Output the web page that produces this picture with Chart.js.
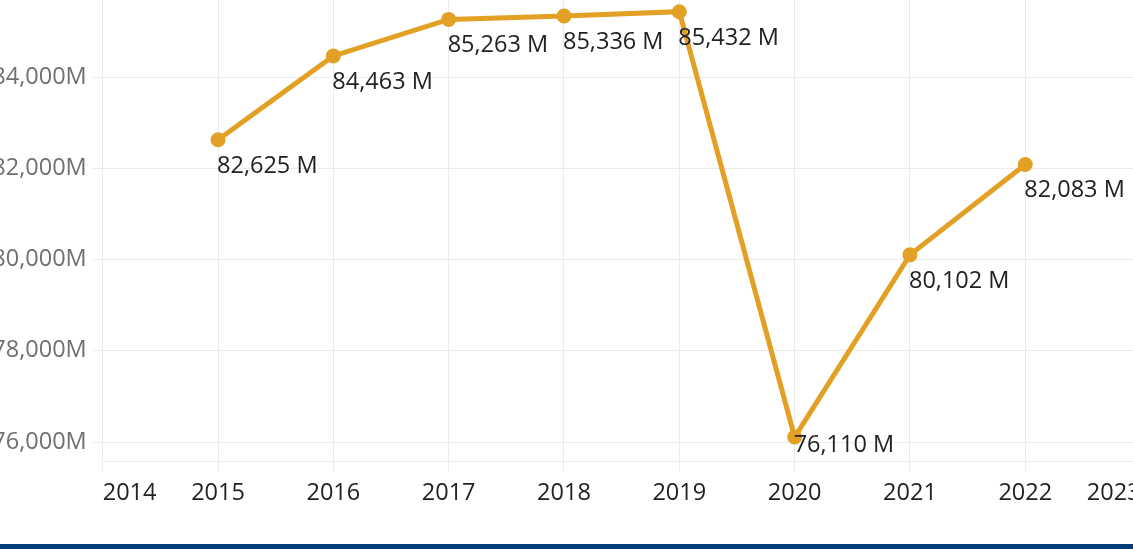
<!DOCTYPE html>
<html><head><meta charset="utf-8">
<style>
html,body{margin:0;padding:0;background:#fff;overflow:hidden;width:1133px;height:549px;}
#wrap{position:absolute;left:-30px;top:0;width:1200px;height:544px;}
#bar{position:absolute;left:0;top:544px;width:1133px;height:5px;background:#003d79;}
</style>
<script src="https://cdn.jsdelivr.net/npm/chart.js@4"></script>
</head><body>
<div id="wrap"><canvas id="c" width="1200" height="544"></canvas></div>
<div id="bar"></div>
<script>
const years = [2015, 2016, 2017, 2018, 2019, 2020, 2021, 2022];
const values = [82625, 84463, 85263, 85336, 85432, 76110, 80102, 82083];
const yTicks = [76000, 78000, 80000, 82000, 84000];
const xTicks = [2014, 2015, 2016, 2017, 2018, 2019, 2020, 2021, 2022, 2023];

const FONT = '"Open Sans", "Noto Sans", sans-serif';
const FS = 23.5;
const gridColor = '#ebebeb';
const lineColor = '#E2A125';

const labelPlugin = {
  id: 'valueLabels',
  afterDatasetsDraw(chart) {
    const ctx = chart.ctx;
    const area = chart.chartArea;
    const meta = chart.getDatasetMeta(0);
    ctx.save();
    ctx.font = FS + 'px ' + FONT;
    ctx.fillStyle = '#222222';
    ctx.textAlign = 'left';
    ctx.textBaseline = 'alphabetic';
    meta.data.forEach((p, i) => {
      const txt = values[i].toLocaleString('en-US') + ' M';
      const y = Math.min(p.y + 33, area.bottom - 9);
      ctx.fillText(txt, p.x - 1, y);
    });
    ctx.restore();
  }
};

new Chart(document.getElementById('c'), {
  type: 'line',
  data: {
    datasets: [{
      data: years.map((y, i) => ({ x: y, y: values[i] })),
      borderColor: lineColor,
      backgroundColor: lineColor,
      pointBackgroundColor: lineColor,
      pointBorderColor: lineColor,
      borderWidth: 5,
      pointRadius: 5,
      tension: 0
    }]
  },
  options: {
    responsive: false,
    animation: false,
    layout: { autoPadding: false, padding: { left: 0, right: 29.4, top: 0, bottom: 0 } },
    plugins: { legend: { display: false }, tooltip: { enabled: false } },
    scales: {
      x: {
        type: 'linear',
        min: 2014,
        max: 2023,
        afterBuildTicks: s => { s.ticks = xTicks.map(v => ({ value: v })); },
        afterFit: s => { s.height = 83; s.paddingLeft = 0; s.paddingRight = 0; },
        grid: { color: gridColor, drawTicks: true, tickLength: 10, tickColor: gridColor },
        border: { color: gridColor },
        ticks: {
          align: 'inner',
          padding: 8,
          color: '#222222',
          font: { family: FONT, size: FS },
          callback: v => String(v),
          maxRotation: 0,
          autoSkip: false
        }
      },
      y: {
        min: 75584,
        max: 85688,
        afterBuildTicks: s => { s.ticks = yTicks.map(v => ({ value: v })); },
        afterFit: s => { s.width = 132.7; s.paddingTop = 0; s.paddingBottom = 0; },
        grid: { color: gridColor, drawTicks: true, tickLength: 10, tickColor: gridColor },
        border: { color: gridColor },
        ticks: {
          padding: 6,
          color: '#707070',
          font: { family: FONT, size: FS },
          callback: v => v.toLocaleString('en-US') + 'M'
        }
      }
    }
  },
  plugins: [labelPlugin]
});
</script>
</body></html>
